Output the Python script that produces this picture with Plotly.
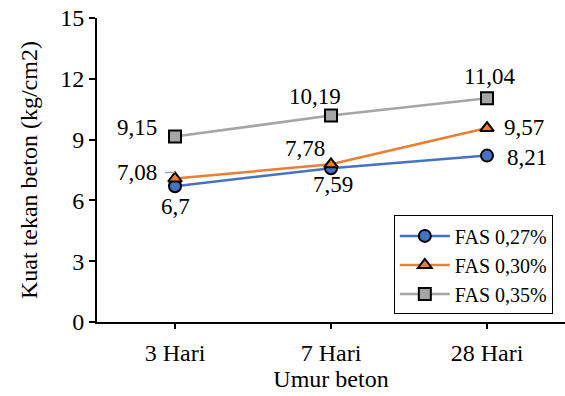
import plotly.graph_objects as go

# Concrete age categories and compressive strength per water-cement ratio
umur = ["3 Hari", "7 Hari", "28 Hari"]
fas_027 = [6.7, 7.59, 8.21]
fas_030 = [7.08, 7.78, 9.57]
fas_035 = [9.15, 10.19, 11.04]

series = [
    ("FAS 0,27%", fas_027, "#4472C4", "circle"),
    ("FAS 0,30%", fas_030, "#ED7D31", "triangle-up"),
    ("FAS 0,35%", fas_035, "#A5A5A5", "square"),
]

# label placement per point: (xanchor, xshift, yshift)
label_pos = {
    "FAS 0,27%": [("center", 0, -20), ("center", 2, -16), ("left", 18, -2)],
    "FAS 0,30%": [("right", -16, 6), ("center", -26, 16), ("left", 15, 1)],
    "FAS 0,35%": [("right", -16, 9), ("center", -16, 19), ("center", 2, 22)],
}

FONT = "Liberation Serif"

fig = go.Figure()
annotations = []
for name, vals, color, sym in series:
    fig.add_trace(go.Scatter(
        x=umur, y=vals, name=name, mode="lines+markers",
        line=dict(color=color, width=2.5),
        marker=dict(symbol=sym, size=12, color=color,
                    line=dict(color="black", width=2)),
    ))
    for (xa, xs, ys), x, v in zip(label_pos[name], umur, vals):
        annotations.append(dict(
            x=x, y=v, xref="x", yref="y", text=f"{v:g}".replace(".", ","),
            showarrow=False, xanchor=xa, yanchor="middle",
            xshift=xs, yshift=ys,
            font=dict(family=FONT, size=23, color="black"),
        ))

# vertical axis title, placed in pixels left of the plot area
annotations.append(dict(
    text="Kuat tekan beton (kg/cm2)", textangle=-90,
    xref="paper", yref="paper", x=0, y=0.5, xshift=-68,
    xanchor="center", yanchor="middle", showarrow=False,
    font=dict(family=FONT, size=24, color="black"),
))

# short leader line from the "7,08" label towards its marker
fig.add_shape(
    type="line", xref="x", yref="y",
    xsizemode="pixel", ysizemode="pixel",
    xanchor=0, yanchor=fas_030[0],
    x0=-10, x1=0, y0=6, y1=6,
    line=dict(color="#A5A5A5", width=1.5),
)

fig.update_layout(
    width=565, height=396,
    margin=dict(l=97, r=0, t=18, b=74),
    paper_bgcolor="white", plot_bgcolor="white",
    annotations=annotations,
    showlegend=True,
    legend=dict(
        x=0.974, y=0.025, xanchor="right", yanchor="bottom",
        bordercolor="black", borderwidth=1, bgcolor="white",
        font=dict(family=FONT, size=20, color="black"),
        tracegroupgap=0, itemwidth=50,
    ),
)
fig.update_xaxes(
    type="category", range=[-0.5, 2.5],
    showline=True, linecolor="black", linewidth=2,
    ticks="outside", ticklen=5, tickwidth=2, tickcolor="black",
    showgrid=False, zeroline=False, ticklabelstandoff=3,
    tickfont=dict(family=FONT, size=24, color="black"),
    title=dict(text="Umur beton", font=dict(family=FONT, size=24, color="black"), standoff=2),
)
fig.update_yaxes(
    range=[0, 15], tickvals=[0, 3, 6, 9, 12, 15],
    ticksuffix="\u00a0\u2009",
    showline=True, linecolor="black", linewidth=2,
    ticks="outside", ticklen=6, tickwidth=2, tickcolor="black",
    showgrid=False, zeroline=False,
    tickfont=dict(family=FONT, size=24, color="black"),
)

fig.write_html("out.html")
